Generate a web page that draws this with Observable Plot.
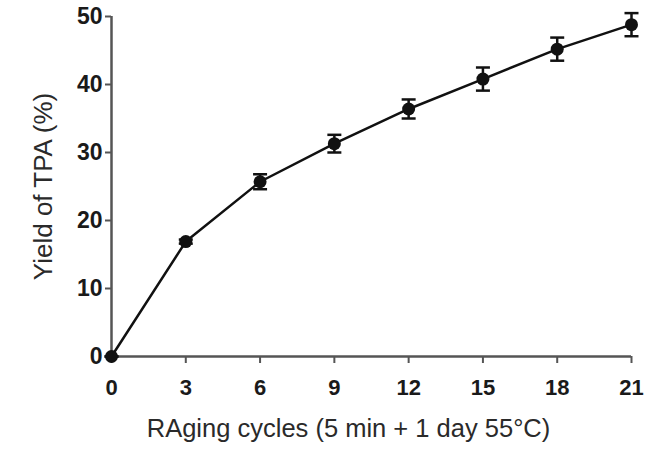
<!DOCTYPE html>
<html>
<head>
<meta charset="utf-8">
<script src="https://cdn.jsdelivr.net/npm/d3@7"></script>
<script src="https://cdn.jsdelivr.net/npm/@observablehq/plot@0.6"></script>
<style>
  html, body { margin: 0; padding: 0; background: #fff; }
  #chart svg { display: block; }
</style>
</head>
<body>
<div id="chart"></div>
<script>
const cycles = [0, 3, 6, 9, 12, 15, 18, 21];
const yieldTPA = [0, 16.9, 25.7, 31.3, 36.4, 40.8, 45.2, 48.8];
const yieldErr = [0, 0.3, 1.1, 1.3, 1.4, 1.7, 1.7, 1.7];
const xTicks = [0, 3, 6, 9, 12, 15, 18, 21];
const yTicks = [0, 10, 20, 30, 40, 50];
const xTitle = "RAging cycles (5 min + 1 day 55°C)";
const yTitle = "Yield of TPA (%)";

const data = cycles.map((c, i) => ({x: c, y: yieldTPA[i], lo: yieldTPA[i] - yieldErr[i], hi: yieldTPA[i] + yieldErr[i]}));

const capSymbol = {
  draw(context, size) {
    const w = 7;
    context.moveTo(-w, 0);
    context.lineTo(w, 0);
  }
};

const font = "'Liberation Sans', Arial, Helvetica, sans-serif";

const chart = Plot.plot({
  width: 663,
  height: 449,
  marginLeft: 111,
  marginRight: 32,
  marginTop: 16,
  marginBottom: 93,
  style: {fontFamily: font, background: "#fff"},
  x: {domain: [0, 21]},
  y: {domain: [0, 50]},
  marks: [
    Plot.axisX(xTicks, {tickSize: 7, tickPadding: 16, fontSize: 22, fontWeight: "bold", stroke: "#555", strokeWidth: 2, fill: "#1a1a1a", label: null}),
    Plot.axisY(yTicks, {tickSize: 6, tickPadding: 3, fontSize: 23, fontWeight: "bold", stroke: "#555", strokeWidth: 2, fill: "#1a1a1a", label: null}),
    Plot.ruleY([0], {stroke: "#555", strokeWidth: 2.5}),
    Plot.ruleX([0], {stroke: "#555", strokeWidth: 2.5}),
    Plot.line(data, {x: "x", y: "y", stroke: "#111", strokeWidth: 2.5}),
    Plot.ruleX(data, {x: "x", y1: "lo", y2: "hi", stroke: "#111", strokeWidth: 2.5}),
    Plot.dot(data, {x: "x", y: "lo", symbol: capSymbol, r: 5, fill: "none", stroke: "#111", strokeWidth: 2.5}),
    Plot.dot(data, {x: "x", y: "hi", symbol: capSymbol, r: 5, fill: "none", stroke: "#111", strokeWidth: 2.5}),
    Plot.dot(data, {x: "x", y: "y", r: 6.5, fill: "#111", stroke: "none"}),
    Plot.text([xTitle], {frameAnchor: "bottom", dy: 72, dx: -23, fontSize: 25.5, fill: "#2a2a2a", lineAnchor: "middle"}),
    Plot.text([yTitle], {frameAnchor: "left", dx: -68, rotate: -90, fontSize: 26, fill: "#2a2a2a", lineAnchor: "middle", textAnchor: "middle"})
  ]
});

document.getElementById("chart").appendChild(chart);
</script>
</body>
</html>
